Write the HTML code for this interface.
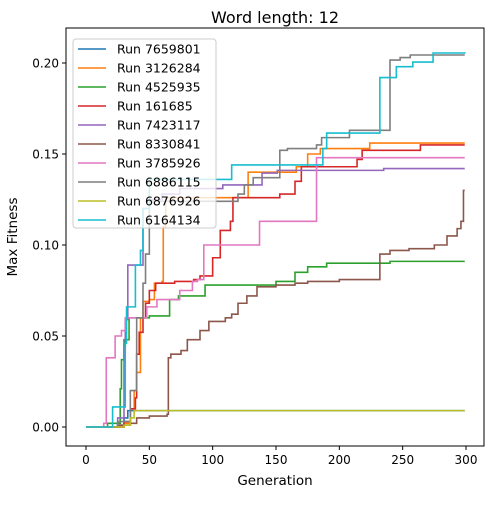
<!DOCTYPE html>
<html><head><meta charset="utf-8"><style>
body{margin:0;background:#fff;font-family:"Liberation Sans","DejaVu Sans",sans-serif}
</style></head><body>
<svg id="chart" width="500" height="500" xmlns="http://www.w3.org/2000/svg" font-family="DejaVu Sans, Liberation Sans, sans-serif"></svg>
<script>
const xTicks=[0,50,100,150,200,250,300];
const yTicks=[0,0.05,0.10,0.15,0.20];
const yTickLabels=["0.00","0.05","0.10","0.15","0.20"];
const runNames=["Run 7659801","Run 3126284","Run 4525935","Run 161685","Run 7423117","Run 8330841","Run 3785926","Run 6886115","Run 6876926","Run 6164134"];
const colors=["#1f77b4","#ff7f0e","#2ca02c","#d62728","#9467bd","#8c564b","#e377c2","#7f7f7f","#bcbd22","#17becf"];
const s0=[[0,0],[25,0.001],[30,0.005],[33,0.009],[299,0.009]];
const s1=[[0,0],[30,0.002],[35,0.01],[38,0.02],[40,0.03],[43,0.06],[45,0.069],[50,0.07],[54,0.079],[60,0.08],[61,0.11],[63,0.126],[128,0.14],[166,0.143],[175,0.15],[185,0.153],[224,0.156],[299,0.156]];
const s2=[[0,0],[17,0.002],[27,0.021],[28,0.037],[30,0.048],[34,0.06],[50,0.061],[66,0.07],[73,0.072],[94,0.078],[145,0.078],[150,0.08],[165,0.085],[175,0.088],[190,0.09],[240,0.091],[299,0.091]];
const s3=[[0,0],[30,0.003],[35,0.01],[39,0.016],[40,0.04],[42,0.052],[45,0.06],[47,0.068],[50,0.075],[55,0.079],[70,0.08],[85,0.081],[90,0.083],[100,0.093],[106,0.108],[114,0.113],[116,0.126],[153,0.128],[165,0.135],[170,0.143],[214,0.147],[218,0.152],[264,0.155],[299,0.155]];
const s4=[[0,0],[25,0.005],[30,0.044],[31,0.059],[33,0.089],[43,0.089],[45,0.12],[50,0.125],[60,0.128],[74,0.131],[108,0.133],[139,0.1395],[151,0.141],[235,0.142],[299,0.142]];
const s5=[[0,0],[25,0.001],[35,0.002],[40,0.005],[50,0.006],[64,0.007],[65,0.038],[67,0.04],[75,0.042],[80,0.048],[90,0.053],[97,0.058],[110,0.06],[115,0.062],[120,0.068],[127,0.072],[135,0.077],[150,0.078],[165,0.079],[175,0.08],[200,0.081],[231,0.081],[232,0.095],[240,0.097],[255,0.098],[275,0.1],[285,0.105],[293,0.109],[296,0.113],[298,0.13],[299,0.13]];
const s6=[[0,0],[14,0.002],[16,0.038],[23,0.05],[28,0.053],[31,0.06],[40,0.06],[48,0.066],[56,0.07],[74,0.075],[84,0.08],[88,0.081],[93,0.1],[137,0.113],[182,0.148],[299,0.148]];
const s7=[[0,0],[25,0.003],[35,0.02],[40,0.06],[45,0.079],[47,0.095],[50,0.124],[118,0.124],[120,0.128],[125,0.133],[132,0.137],[153,0.152],[159,0.153],[182,0.155],[186,0.159],[208,0.163],[239,0.163],[240,0.2016],[248,0.203],[256,0.2044],[299,0.2044]];
const s8=[[0,0],[30,0.001],[35,0.005],[38,0.009],[299,0.009]];
const s9=[[0,0],[21,0.011],[31,0.046],[32,0.066],[39,0.089],[43,0.097],[45,0.12],[50,0.136],[114,0.136],[115,0.144],[185,0.144],[187,0.153],[190,0.1615],[231,0.1615],[232,0.192],[245,0.198],[258,0.2005],[274,0.2055],[299,0.206]];
const series=[s0,s1,s2,s3,s4,s5,s6,s7,s8,s9];
const L=66,R=484,T=28,B=446;
const xs=g=>86+g*(380/300);
const ys=v=>427-v*1820;
const svg=document.getElementById('chart');
const NS='http://www.w3.org/2000/svg';
function mk(t,a,p){const e=document.createElementNS(NS,t);for(const k in a)e.setAttribute(k,a[k]);(p||svg).appendChild(e);return e;}
series.forEach((s,i)=>{let d='';s.forEach((p,j)=>{if(j===0)d+='M'+xs(p[0])+' '+ys(p[1]);else{d+=' L'+xs(p[0])+' '+ys(s[j-1][1])+' L'+xs(p[0])+' '+ys(p[1]);}});
const e=mk('path',{d:d,fill:'none',stroke:colors[i],'stroke-width':1.6});

});
const fr=mk('rect',{x:L,y:T,width:R-L,height:B-T,fill:'none',stroke:'#000','stroke-width':1});

xTicks.forEach(t=>{mk('line',{x1:xs(t),x2:xs(t),y1:B,y2:B+4,stroke:'#000'});
const e=mk('text',{x:xs(t),y:B+18,'text-anchor':'middle','font-size':12});e.textContent=t;
});
yTicks.forEach((t,i)=>{mk('line',{x1:L-4,x2:L,y1:ys(t),y2:ys(t),stroke:'#000'});
const e=mk('text',{x:L-7,y:ys(t)+4.5,'text-anchor':'end','font-size':12});e.textContent=yTickLabels[i];
});
let e=mk('text',{x:275,y:485,'text-anchor':'middle','font-size':13.5});e.textContent='Generation';

e=mk('text',{x:17,y:237,'text-anchor':'middle','font-size':13.5,transform:'rotate(-90 17 237)'});e.textContent='Max Fitness';

e=mk('text',{x:275,y:23,'text-anchor':'middle','font-size':16});e.textContent='Word length: 12';

const lg=mk('g',{});
mk('rect',{x:73,y:39,width:143,height:189,rx:3,fill:'#fff','fill-opacity':0.8,stroke:'#ccc'},lg);
runNames.forEach((n,i)=>{const y=49+i*19;
mk('line',{x1:78,x2:106,y1:y,y2:y,stroke:colors[i],'stroke-width':1.6},lg);
const t=mk('text',{x:117,y:y+4.5,'font-size':12.5},lg);t.textContent=n;
});
</script>
</body></html>
